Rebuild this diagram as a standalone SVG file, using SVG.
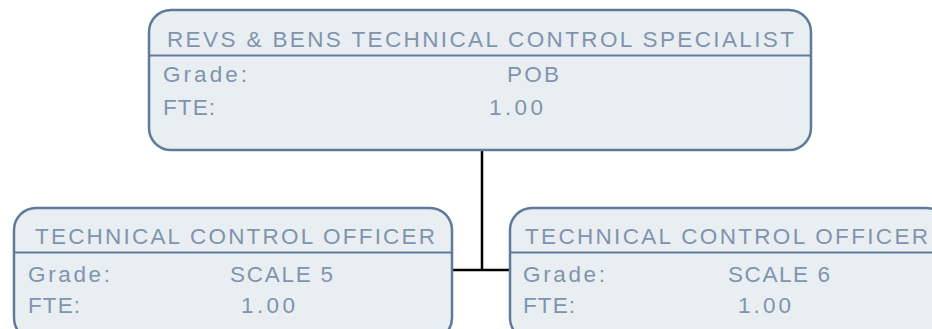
<svg xmlns="http://www.w3.org/2000/svg" width="932" height="329" viewBox="0 0 932 329">
<style>
.box{fill:#e9eef2;stroke:#5f7a9b;stroke-width:2.5}
.div{stroke:#5f7a9b;stroke-width:2}
.t{font-family:"Liberation Sans",Arial,sans-serif;font-size:22.5px;fill:#8094ae}
.c{fill:none;stroke:#000;stroke-width:2.5}
</style>
<rect width="932" height="329" fill="#fff"/>
<g id="connectors">
<path class="c" d="M482 150 V270 M452 270 H511"/>
</g>
<g id="node-specialist">
<rect class="box" x="149" y="10" width="662" height="140" rx="22"/>
<line class="div" x1="149" y1="55.5" x2="811" y2="55.5"/>
<text class="t" x="167" y="47" textLength="627" lengthAdjust="spacing">REVS &amp; BENS TECHNICAL CONTROL SPECIALIST</text>
<text class="t" x="163" y="82" textLength="84" lengthAdjust="spacing">Grade:</text>
<text class="t" x="507" y="82" textLength="52" lengthAdjust="spacing">POB</text>
<text class="t" x="163" y="115" textLength="52" lengthAdjust="spacing">FTE:</text>
<text class="t" x="489" y="115" textLength="54" lengthAdjust="spacing">1.00</text>
</g>
<g id="node-officer-5">
<rect class="box" x="14" y="208" width="438" height="132" rx="22"/>
<line class="div" x1="14" y1="252.5" x2="452" y2="252.5"/>
<text class="t" x="35" y="244" textLength="400" lengthAdjust="spacing">TECHNICAL CONTROL OFFICER</text>
<text class="t" x="28" y="282" textLength="82" lengthAdjust="spacing">Grade:</text>
<text class="t" x="230" y="282" textLength="103" lengthAdjust="spacing">SCALE 5</text>
<text class="t" x="28" y="313" textLength="52" lengthAdjust="spacing">FTE:</text>
<text class="t" x="241" y="313" textLength="54" lengthAdjust="spacing">1.00</text>
</g>
<g id="node-officer-6">
<rect class="box" x="510" y="208" width="438" height="132" rx="22"/>
<line class="div" x1="510" y1="252.5" x2="948" y2="252.5"/>
<text class="t" x="525" y="244" textLength="403" lengthAdjust="spacing">TECHNICAL CONTROL OFFICER</text>
<text class="t" x="523" y="282" textLength="82" lengthAdjust="spacing">Grade:</text>
<text class="t" x="728" y="282" textLength="102" lengthAdjust="spacing">SCALE 6</text>
<text class="t" x="523" y="313" textLength="52" lengthAdjust="spacing">FTE:</text>
<text class="t" x="738" y="313" textLength="53" lengthAdjust="spacing">1.00</text>
</g>
</svg>
